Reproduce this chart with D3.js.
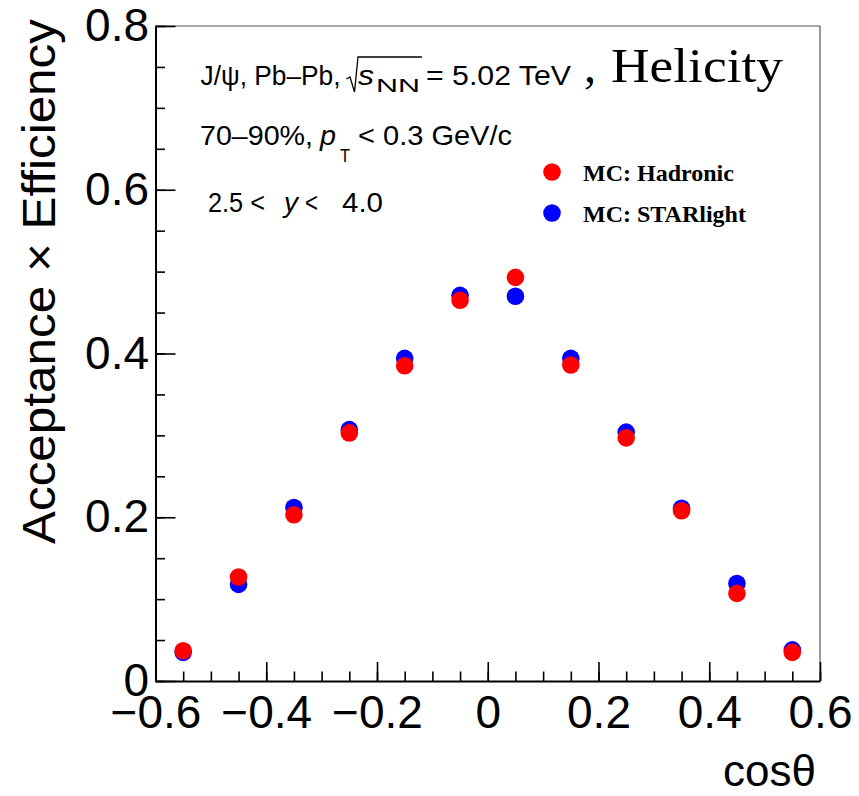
<!DOCTYPE html>
<html>
<head>
<meta charset="UTF-8">
<title>Acceptance x Efficiency vs cos theta</title>
<script src="https://d3js.org/d3.v7.min.js"></script>
<style>
  body { margin: 0; background: #fff; }
  svg text { font-family: "Liberation Sans", Arial, sans-serif; fill: #000; }
  .serif { font-family: "Liberation Serif", "Times New Roman", serif; }
</style>
</head>
<body>
<svg id="chart" width="859" height="796"></svg>
<script>
// bin centres in cos(theta)
var cosTheta = [-0.55, -0.45, -0.35, -0.25, -0.15, -0.05, 0.05, 0.15, 0.25, 0.35, 0.45, 0.55];
// MC: Hadronic (red)
var hadronic = [0.037, 0.127, 0.203, 0.303, 0.385, 0.465, 0.493, 0.386, 0.297, 0.208, 0.107, 0.035];
// MC: STARlight (blue)
var starlight = [0.035, 0.118, 0.212, 0.307, 0.394, 0.471, 0.470, 0.394, 0.304, 0.211, 0.119, 0.038];

var xTicks = [-0.6, -0.4, -0.2, 0, 0.2, 0.4, 0.6];
var yTicks = [0, 0.2, 0.4, 0.6, 0.8];

var svg = d3.select("#chart");
svg.append("rect").attr("width", 859).attr("height", 796).attr("fill", "#fff");

var padL = 155.5, padR = 820, padT = 26, padB = 681;
var x = d3.scaleLinear().domain([-0.6, 0.6]).range([padL, padR]);
var y = d3.scaleLinear().domain([0, 0.8]).range([padB, padT]);

var fmt = function (d) { return d === 0 ? "0" : d3.format(".1f")(d).replace("-", "\u2212"); };

// frame (top / right)
svg.append("path")
  .attr("d", "M" + padL + "," + padT + "H" + padR + "V" + padB)
  .attr("fill", "none").attr("stroke", "#555").attr("stroke-width", 1.2);

// minor ticks
var xMinor = d3.range(-12, 13).map(function (i) { return i * 0.05; });
var yMinor = d3.range(0, 17).map(function (i) { return i * 0.05; });

svg.append("g").attr("transform", "translate(0," + padB + ")")
  .call(d3.axisBottom(x).tickValues(xMinor).tickFormat("").tickSizeInner(-9.5).tickSizeOuter(0))
  .call(function (g) { g.select(".domain").remove(); g.selectAll("line").attr("stroke-width", 1.6); });
svg.append("g").attr("transform", "translate(" + padL + ",0)")
  .call(d3.axisLeft(y).tickValues(yMinor).tickFormat("").tickSizeInner(-9.5).tickSizeOuter(0))
  .call(function (g) { g.select(".domain").remove(); g.selectAll("line").attr("stroke-width", 1.6); });

// major axes
var xAxis = svg.append("g").attr("transform", "translate(0," + padB + ")")
  .call(d3.axisBottom(x).tickValues(xTicks).tickFormat(fmt).tickSizeInner(-19).tickSizeOuter(0).tickPadding(14));
var yAxis = svg.append("g").attr("transform", "translate(" + padL + ",0)")
  .call(d3.axisLeft(y).tickValues(yTicks).tickFormat(fmt).tickSizeInner(-20).tickSizeOuter(0).tickPadding(6.5));

[xAxis, yAxis].forEach(function (g) {
  g.select(".domain").attr("stroke", "#000").attr("stroke-width", 2);
  g.selectAll(".tick line").attr("stroke", "#000").attr("stroke-width", 1.6);
  g.selectAll(".tick text").attr("font-size", 46).attr("font-family", "Liberation Sans, Arial, sans-serif").attr("fill", "#000");
});
yAxis.selectAll(".tick text").attr("dy", "0.32em");

// axis titles
svg.append("text")
  .attr("transform", "translate(55,281.5) rotate(-90)")
  .attr("text-anchor", "middle")
  .attr("font-size", 46)
  .attr("textLength", 525).attr("lengthAdjust", "spacingAndGlyphs")
  .text("Acceptance \u00d7 Efficiency");
svg.append("text")
  .attr("x", 816).attr("y", 786)
  .attr("text-anchor", "end")
  .attr("font-size", 44)
  .text("cos\u03b8");

// data points: blue first, red on top
var pts = svg.append("g");
pts.selectAll("circle.star").data(cosTheta).enter().append("circle")
  .attr("class", "star")
  .attr("cx", function (d) { return x(d); })
  .attr("cy", function (d, i) { return y(starlight[i]); })
  .attr("r", 8.8).attr("fill", "#0000ff");
pts.selectAll("circle.had").data(cosTheta).enter().append("circle")
  .attr("class", "had")
  .attr("cx", function (d) { return x(d); })
  .attr("cy", function (d, i) { return y(hadronic[i]); })
  .attr("r", 8.8).attr("fill", "#ff0000");

// text helper
function txt(px, py, s, size, opts) {
  opts = opts || {};
  var t = svg.append("text").attr("x", px).attr("y", py).attr("font-size", size)
    .attr("xml:space", "preserve").text(s);
  if (opts.italic) t.attr("font-style", "italic");
  if (opts.bold) t.attr("font-weight", "bold");
  if (opts.serif) t.attr("class", "serif");
  if (opts.len) t.attr("textLength", opts.len).attr("lengthAdjust", "spacingAndGlyphs");
  return t;
}

// line 1
txt(200.5, 85, "J/\u03c8, Pb\u2013Pb,", 27, { len: 140 });
svg.append("path")
  .attr("d", "M346.5,79 L350,77 L354.5,92 L358,57 L422,57")
  .attr("fill", "none").attr("stroke", "#000").attr("stroke-width", 1.3);
txt(358, 85, "s", 28, { italic: true, len: 16 });
txt(376, 92, "NN", 18, { len: 44 });
txt(426, 85, "= 5.02 TeV", 27, { len: 145 });
txt(584, 82, ",", 48, { serif: true });
txt(611, 82, "Helicity", 48, { serif: true, len: 172 });

// line 2
txt(200, 145, "70\u201390%,", 28, { len: 113 });
txt(320, 145, "p", 28, { italic: true, len: 16 });
txt(340, 162, "T", 18, { len: 10 });
txt(358, 145, "< 0.3 GeV/c", 28, { len: 154 });

// line 3
txt(208, 212, "2.5 <", 28, { len: 57 });
txt(284, 212, "y", 28, { italic: true, len: 14 });
txt(305, 212, "<", 28, { len: 13 });
txt(342, 212, "4.0", 28, { len: 41 });

// legend
var legend = [
  { label: "MC: Hadronic", color: "#ff0000", cy: 172 },
  { label: "MC: STARlight", color: "#0000ff", cy: 213 }
];
legend.forEach(function (d) {
  svg.append("circle").attr("cx", 552).attr("cy", d.cy).attr("r", 8.8).attr("fill", d.color);
  txt(583, d.cy + 8.5, d.label, 24, { serif: true, bold: true });
});
</script>
</body>
</html>
